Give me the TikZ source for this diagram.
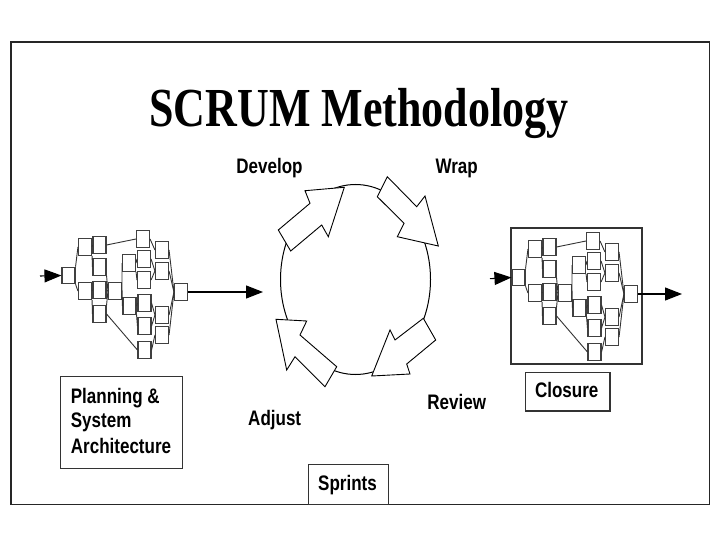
\documentclass[tikz,border=0pt]{standalone}
\usepackage{fontspec}
\setmainfont{Liberation Serif}
\newfontfamily\titlefont[FakeStretch=0.8]{Liberation Serif}
\newfontfamily\labfont[FakeStretch=0.81]{Liberation Sans}
\usetikzlibrary{arrows.meta,shapes.geometric}

\newcommand\netdraw[3]{%
 \begin{scope}[shift={(#1,#2)}]
  \node[nb] (#3A) at (68.5,275.5) {};
  \node[nb] (#3B1) at (85,247) {};
  \node[nb] (#3B2) at (85,291) {};
  \node[nb] (#3C1) at (99.5,245) {};
  \node[nb] (#3C2) at (99.5,267) {};
  \node[nb] (#3C3) at (99.5,290) {};
  \node[nb] (#3C4) at (99.5,314) {};
  \node[nb] (#3D) at (115,291) {};
  \node[nb] (#3E1) at (129,263) {};
  \node[nb] (#3E2) at (129.5,306) {};
  \node[nb] (#3F1) at (143,239) {};
  \node[nb] (#3F2) at (144,259) {};
  \node[nb] (#3F3) at (144,280) {};
  \node[nb] (#3F4) at (144.5,303) {};
  \node[nb] (#3F5) at (144.5,326) {};
  \node[nb] (#3F6) at (144.5,350) {};
  \node[nb] (#3G1) at (162,250) {};
  \node[nb] (#3G2) at (162,271) {};
  \node[nb] (#3G3) at (162,315) {};
  \node[nb] (#3G4) at (162,335) {};
  \node[nb] (#3H) at (181,292) {};
  \draw[nl] (#3A.north east) -- (#3B1.west);
  \draw[nl] (#3A.south east) -- (#3B2.west);
  \draw[nl] (#3B1.east) -- (#3C1.west);
  \draw[nl] (#3B1.south east) -- (#3C2.west);
  \draw[nl] (#3B2.east) -- (#3C3.west);
  \draw[nl] (#3B2.south east) -- (#3C4.west);
  \draw[nl] (#3C1.east) -- (#3F1.west);
  \draw[nl] (#3C2.south east) -- (#3D.west);
  \draw[nl] (#3C3.east) -- (#3D.west);
  \draw[nl] (#3C4.north east) -- (#3D.west);
  \draw[nl] (#3C4.east) -- (#3F6.west);
  \draw[nl] (#3D.east) -- (#3E1.west);
  \draw[nl] (#3D.east) -- (#3E2.west);
  \draw[nl] (#3E1.east) -- (#3F2.west);
  \draw[nl] (#3E1.south east) -- (#3F3.west);
  \draw[nl] (#3E2.east) -- (#3F4.west);
  \draw[nl] (#3E2.south east) -- (#3F5.west);
  \draw[nl] (#3F1.east) -- (#3G1.west);
  \draw[nl] (#3F2.east) -- (#3G2.west);
  \draw[nl] (#3F3.east) -- (#3G2.west);
  \draw[nl] (#3F4.east) -- (#3G3.west);
  \draw[nl] (#3F5.east) -- (#3G3.west);
  \draw[nl] (#3F6.east) -- (#3G4.west);
  \draw[nl] (#3G1.east) -- (#3H.west);
  \draw[nl] (#3G2.east) -- (#3H.west);
  \draw[nl] (#3G3.east) -- (#3H.west);
  \draw[nl] (#3G4.east) -- (#3H.west);
 \end{scope}}

\begin{document}
\begin{tikzpicture}[x=1pt,y=-1pt,
  nb/.style={draw=black!75, fill=white, line width=1.1pt, minimum width=13pt, minimum height=16.5pt, inner sep=0pt},
  nl/.style={draw=black!80, line width=0.9pt},
  flow/.style={draw=black, line width=1.1pt, -{Triangle[length=17pt,width=13pt]}},
  blk/.style={draw=black, fill=white, line width=0.9pt, line join=miter},
  lab/.style={font={\labfont\bfseries\fontsize{21}{25}\selectfont}, inner sep=0pt, anchor=base},
  labw/.style={lab, anchor=base west},
  boxf/.style={draw=black!80, line width=1.1pt, inner sep=0pt}]
\useasboundingbox (0,0) rectangle (720,540);
\fill[white] (0,0) rectangle (720,540);
% outer frame
\draw[draw=black!85, line width=1.3pt] (11,42) rectangle (709.6,504.3);

% title
\node[font={\titlefont\bfseries\fontsize{55}{60}\selectfont}, inner sep=0pt, anchor=base] (title) at (359,126.7) {SCRUM Methodology};

% networks
\netdraw{0}{0}{L}
\node[boxf, minimum width=131pt, minimum height=136pt] (Rframe) at (576.5,296) {};
\netdraw{450}{2}{R}

\coordinate (Lin) at (40,276);
\coordinate (Lout) at (263,292);
\coordinate (Rin) at (490,278.7);
\coordinate (Rout) at (682,294);
\draw[flow] (Lin) -- (LA.west);
\draw[flow] (LH.east) -- (Lout);
\draw[flow] (Rin) -- (RA.west);
\draw[flow] (RH.east) -- (Rout);

% sprint cycle
\node[draw=black, line width=1pt, ellipse, minimum width=150pt, minimum height=190pt, inner sep=0pt] (cyc) at (355.5,279.5) {};
\draw[blk] (344.3,187.3) -- (305,190.7) -- (310,203.3) -- (278.3,230) -- (290.7,251) -- (321.7,225) -- (328.3,236.7) -- cycle;
\draw[blk] (387.3,176.7) -- (416.7,206.7) -- (425,196) -- (438.3,246) -- (397.3,236.7) -- (404,223.3) -- (377.3,196.7) -- cycle;
\draw[blk] (423.3,318.3) -- (395,340) -- (390,330) -- (371.7,376) -- (410,374) -- (406.7,364) -- (435.7,340) -- cycle;
\draw[blk] (276,319.3) -- (306.7,321) -- (300,335) -- (336.7,366.7) -- (325,386.7) -- (295,356.7) -- (286.7,370) -- cycle;

% labels
\node[lab] (develop) at (269.5,173.3) {Develop};
\node[lab] (wrap) at (456.7,174) {Wrap};
\node[lab] (adjust) at (274.7,425) {Adjust};
\node[lab] (review) at (456.7,409.3) {Review};

% boxes
\node[boxf, minimum width=121.6pt, minimum height=91.6pt] (planbox) at (121.5,422.5) {};
\node[labw] (plan1) at (70.7,403.3) {Planning \&};
\node[labw] (plan2) at (70.7,427.3) {System};
\node[labw] (plan3) at (70.7,453.3) {Architecture};

\node[boxf, minimum width=84.3pt, minimum height=38.7pt] (closebox) at (567.85,391.65) {};
\node[lab] (closure) at (566.7,397.7) {Closure};

\node[boxf, fill=white, minimum width=80pt, minimum height=40pt] (sprbox) at (348.3,484.3) {};
\node[lab] (sprints) at (347.5,490) {Sprints};
\end{tikzpicture}
\end{document}
